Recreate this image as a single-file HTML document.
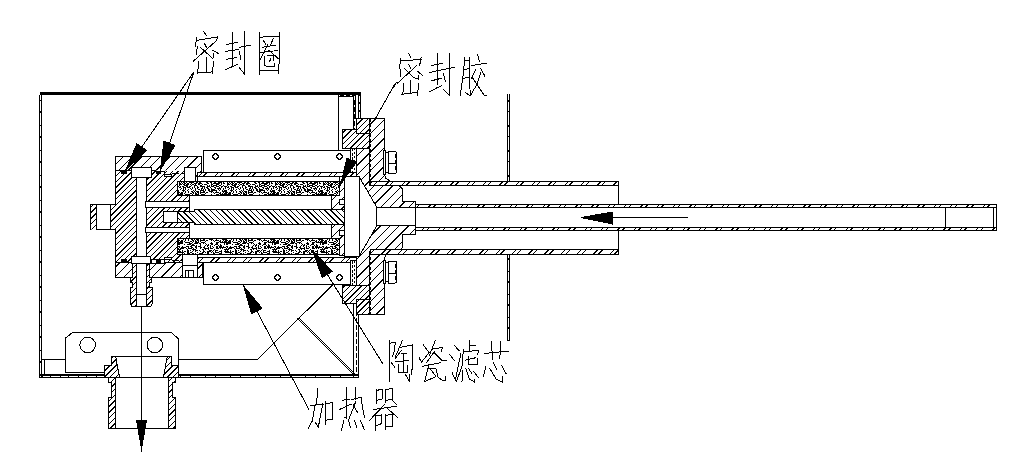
<!DOCTYPE html>
<html><head><meta charset="utf-8"><style>
html,body{margin:0;padding:0;background:#fff;}
svg{display:block;}
</style></head><body>
<svg width="1014" height="460" viewBox="0 0 1014 460" stroke="#000" fill="none" shape-rendering="crispEdges">
<rect width="1014" height="460" fill="#fff" stroke="none"/>
<defs>
<pattern id="h1" stroke="none" patternUnits="userSpaceOnUse" width="4.05" height="4.05" patternTransform="rotate(45)"><rect width="4.05" height="4.05" fill="#fff"/><rect x="0" y="0" width="0.72" height="4.05" fill="#000"/></pattern>
<pattern id="h2" stroke="none" patternUnits="userSpaceOnUse" width="4.05" height="4.05" patternTransform="rotate(-45)"><rect width="4.05" height="4.05" fill="#fff"/><rect x="0" y="0" width="0.72" height="4.05" fill="#000"/></pattern>
<pattern id="h3" stroke="none" patternUnits="userSpaceOnUse" width="6.6" height="6.6" patternTransform="rotate(45)"><rect width="6.6" height="6.6" fill="#fff"/><rect x="0" y="0" width="0.72" height="6.6" fill="#000"/></pattern>
<pattern id="hs" stroke="none" patternUnits="userSpaceOnUse" width="11.5" height="11.5" patternTransform="rotate(45)"><rect width="11.5" height="11.5" fill="#fff"/><rect x="0" y="0" width="0.72" height="11.5" fill="#000"/><rect x="3.4" y="0" width="0.72" height="11.5" fill="#000"/></pattern>
<pattern id="st" stroke="none" fill="#000" patternUnits="userSpaceOnUse" width="48" height="24"><rect width="48" height="24" fill="#fff"/><rect x="0" y="0" width="1" height="1"/><rect x="1" y="0" width="1" height="1"/><rect x="3" y="0" width="1" height="1"/><rect x="5" y="0" width="1" height="1"/><rect x="6" y="0" width="1" height="1"/><rect x="8" y="0" width="1" height="1"/><rect x="9" y="0" width="1" height="1"/><rect x="10" y="0" width="1" height="1"/><rect x="11" y="0" width="1" height="1"/><rect x="12" y="0" width="1" height="1"/><rect x="14" y="0" width="1" height="1"/><rect x="15" y="0" width="1" height="1"/><rect x="19" y="0" width="1" height="1"/><rect x="21" y="0" width="1" height="1"/><rect x="23" y="0" width="1" height="1"/><rect x="24" y="0" width="1" height="1"/><rect x="25" y="0" width="1" height="1"/><rect x="26" y="0" width="1" height="1"/><rect x="28" y="0" width="1" height="1"/><rect x="31" y="0" width="1" height="1"/><rect x="33" y="0" width="1" height="1"/><rect x="34" y="0" width="1" height="1"/><rect x="35" y="0" width="1" height="1"/><rect x="37" y="0" width="1" height="1"/><rect x="38" y="0" width="1" height="1"/><rect x="41" y="0" width="1" height="1"/><rect x="44" y="0" width="1" height="1"/><rect x="1" y="1" width="1" height="1"/><rect x="3" y="1" width="1" height="1"/><rect x="4" y="1" width="1" height="1"/><rect x="6" y="1" width="1" height="1"/><rect x="8" y="1" width="1" height="1"/><rect x="13" y="1" width="1" height="1"/><rect x="22" y="1" width="1" height="1"/><rect x="27" y="1" width="1" height="1"/><rect x="28" y="1" width="1" height="1"/><rect x="30" y="1" width="1" height="1"/><rect x="32" y="1" width="1" height="1"/><rect x="33" y="1" width="1" height="1"/><rect x="34" y="1" width="1" height="1"/><rect x="36" y="1" width="1" height="1"/><rect x="37" y="1" width="1" height="1"/><rect x="38" y="1" width="1" height="1"/><rect x="40" y="1" width="1" height="1"/><rect x="46" y="1" width="1" height="1"/><rect x="47" y="1" width="1" height="1"/><rect x="0" y="2" width="1" height="1"/><rect x="3" y="2" width="1" height="1"/><rect x="4" y="2" width="1" height="1"/><rect x="5" y="2" width="1" height="1"/><rect x="6" y="2" width="1" height="1"/><rect x="9" y="2" width="1" height="1"/><rect x="10" y="2" width="1" height="1"/><rect x="11" y="2" width="1" height="1"/><rect x="12" y="2" width="1" height="1"/><rect x="19" y="2" width="1" height="1"/><rect x="24" y="2" width="1" height="1"/><rect x="25" y="2" width="1" height="1"/><rect x="26" y="2" width="1" height="1"/><rect x="28" y="2" width="1" height="1"/><rect x="29" y="2" width="1" height="1"/><rect x="30" y="2" width="1" height="1"/><rect x="31" y="2" width="1" height="1"/><rect x="32" y="2" width="1" height="1"/><rect x="33" y="2" width="1" height="1"/><rect x="34" y="2" width="1" height="1"/><rect x="35" y="2" width="1" height="1"/><rect x="36" y="2" width="1" height="1"/><rect x="37" y="2" width="1" height="1"/><rect x="38" y="2" width="1" height="1"/><rect x="41" y="2" width="1" height="1"/><rect x="42" y="2" width="1" height="1"/><rect x="43" y="2" width="1" height="1"/><rect x="44" y="2" width="1" height="1"/><rect x="45" y="2" width="1" height="1"/><rect x="2" y="3" width="1" height="1"/><rect x="3" y="3" width="1" height="1"/><rect x="4" y="3" width="1" height="1"/><rect x="5" y="3" width="1" height="1"/><rect x="7" y="3" width="1" height="1"/><rect x="8" y="3" width="1" height="1"/><rect x="11" y="3" width="1" height="1"/><rect x="13" y="3" width="1" height="1"/><rect x="18" y="3" width="1" height="1"/><rect x="19" y="3" width="1" height="1"/><rect x="20" y="3" width="1" height="1"/><rect x="24" y="3" width="1" height="1"/><rect x="25" y="3" width="1" height="1"/><rect x="32" y="3" width="1" height="1"/><rect x="34" y="3" width="1" height="1"/><rect x="35" y="3" width="1" height="1"/><rect x="36" y="3" width="1" height="1"/><rect x="37" y="3" width="1" height="1"/><rect x="38" y="3" width="1" height="1"/><rect x="45" y="3" width="1" height="1"/><rect x="46" y="3" width="1" height="1"/><rect x="47" y="3" width="1" height="1"/><rect x="0" y="4" width="1" height="1"/><rect x="1" y="4" width="1" height="1"/><rect x="8" y="4" width="1" height="1"/><rect x="14" y="4" width="1" height="1"/><rect x="16" y="4" width="1" height="1"/><rect x="19" y="4" width="1" height="1"/><rect x="20" y="4" width="1" height="1"/><rect x="23" y="4" width="1" height="1"/><rect x="24" y="4" width="1" height="1"/><rect x="25" y="4" width="1" height="1"/><rect x="28" y="4" width="1" height="1"/><rect x="32" y="4" width="1" height="1"/><rect x="34" y="4" width="1" height="1"/><rect x="35" y="4" width="1" height="1"/><rect x="40" y="4" width="1" height="1"/><rect x="43" y="4" width="1" height="1"/><rect x="44" y="4" width="1" height="1"/><rect x="45" y="4" width="1" height="1"/><rect x="46" y="4" width="1" height="1"/><rect x="0" y="5" width="1" height="1"/><rect x="1" y="5" width="1" height="1"/><rect x="2" y="5" width="1" height="1"/><rect x="4" y="5" width="1" height="1"/><rect x="8" y="5" width="1" height="1"/><rect x="13" y="5" width="1" height="1"/><rect x="15" y="5" width="1" height="1"/><rect x="16" y="5" width="1" height="1"/><rect x="18" y="5" width="1" height="1"/><rect x="22" y="5" width="1" height="1"/><rect x="26" y="5" width="1" height="1"/><rect x="28" y="5" width="1" height="1"/><rect x="29" y="5" width="1" height="1"/><rect x="47" y="5" width="1" height="1"/><rect x="3" y="6" width="1" height="1"/><rect x="4" y="6" width="1" height="1"/><rect x="6" y="6" width="1" height="1"/><rect x="7" y="6" width="1" height="1"/><rect x="8" y="6" width="1" height="1"/><rect x="12" y="6" width="1" height="1"/><rect x="15" y="6" width="1" height="1"/><rect x="18" y="6" width="1" height="1"/><rect x="20" y="6" width="1" height="1"/><rect x="24" y="6" width="1" height="1"/><rect x="25" y="6" width="1" height="1"/><rect x="27" y="6" width="1" height="1"/><rect x="28" y="6" width="1" height="1"/><rect x="29" y="6" width="1" height="1"/><rect x="31" y="6" width="1" height="1"/><rect x="34" y="6" width="1" height="1"/><rect x="35" y="6" width="1" height="1"/><rect x="38" y="6" width="1" height="1"/><rect x="42" y="6" width="1" height="1"/><rect x="43" y="6" width="1" height="1"/><rect x="44" y="6" width="1" height="1"/><rect x="46" y="6" width="1" height="1"/><rect x="47" y="6" width="1" height="1"/><rect x="0" y="7" width="1" height="1"/><rect x="3" y="7" width="1" height="1"/><rect x="4" y="7" width="1" height="1"/><rect x="8" y="7" width="1" height="1"/><rect x="9" y="7" width="1" height="1"/><rect x="11" y="7" width="1" height="1"/><rect x="12" y="7" width="1" height="1"/><rect x="16" y="7" width="1" height="1"/><rect x="18" y="7" width="1" height="1"/><rect x="21" y="7" width="1" height="1"/><rect x="24" y="7" width="1" height="1"/><rect x="25" y="7" width="1" height="1"/><rect x="27" y="7" width="1" height="1"/><rect x="28" y="7" width="1" height="1"/><rect x="29" y="7" width="1" height="1"/><rect x="30" y="7" width="1" height="1"/><rect x="31" y="7" width="1" height="1"/><rect x="32" y="7" width="1" height="1"/><rect x="33" y="7" width="1" height="1"/><rect x="35" y="7" width="1" height="1"/><rect x="37" y="7" width="1" height="1"/><rect x="38" y="7" width="1" height="1"/><rect x="39" y="7" width="1" height="1"/><rect x="40" y="7" width="1" height="1"/><rect x="41" y="7" width="1" height="1"/><rect x="44" y="7" width="1" height="1"/><rect x="47" y="7" width="1" height="1"/><rect x="1" y="8" width="1" height="1"/><rect x="4" y="8" width="1" height="1"/><rect x="8" y="8" width="1" height="1"/><rect x="12" y="8" width="1" height="1"/><rect x="13" y="8" width="1" height="1"/><rect x="14" y="8" width="1" height="1"/><rect x="15" y="8" width="1" height="1"/><rect x="16" y="8" width="1" height="1"/><rect x="18" y="8" width="1" height="1"/><rect x="19" y="8" width="1" height="1"/><rect x="20" y="8" width="1" height="1"/><rect x="24" y="8" width="1" height="1"/><rect x="25" y="8" width="1" height="1"/><rect x="26" y="8" width="1" height="1"/><rect x="28" y="8" width="1" height="1"/><rect x="30" y="8" width="1" height="1"/><rect x="34" y="8" width="1" height="1"/><rect x="36" y="8" width="1" height="1"/><rect x="37" y="8" width="1" height="1"/><rect x="38" y="8" width="1" height="1"/><rect x="39" y="8" width="1" height="1"/><rect x="42" y="8" width="1" height="1"/><rect x="44" y="8" width="1" height="1"/><rect x="45" y="8" width="1" height="1"/><rect x="46" y="8" width="1" height="1"/><rect x="47" y="8" width="1" height="1"/><rect x="0" y="9" width="1" height="1"/><rect x="1" y="9" width="1" height="1"/><rect x="2" y="9" width="1" height="1"/><rect x="3" y="9" width="1" height="1"/><rect x="10" y="9" width="1" height="1"/><rect x="11" y="9" width="1" height="1"/><rect x="13" y="9" width="1" height="1"/><rect x="16" y="9" width="1" height="1"/><rect x="22" y="9" width="1" height="1"/><rect x="32" y="9" width="1" height="1"/><rect x="33" y="9" width="1" height="1"/><rect x="34" y="9" width="1" height="1"/><rect x="35" y="9" width="1" height="1"/><rect x="36" y="9" width="1" height="1"/><rect x="43" y="9" width="1" height="1"/><rect x="1" y="10" width="1" height="1"/><rect x="3" y="10" width="1" height="1"/><rect x="4" y="10" width="1" height="1"/><rect x="5" y="10" width="1" height="1"/><rect x="7" y="10" width="1" height="1"/><rect x="11" y="10" width="1" height="1"/><rect x="17" y="10" width="1" height="1"/><rect x="18" y="10" width="1" height="1"/><rect x="19" y="10" width="1" height="1"/><rect x="21" y="10" width="1" height="1"/><rect x="23" y="10" width="1" height="1"/><rect x="24" y="10" width="1" height="1"/><rect x="25" y="10" width="1" height="1"/><rect x="29" y="10" width="1" height="1"/><rect x="33" y="10" width="1" height="1"/><rect x="35" y="10" width="1" height="1"/><rect x="38" y="10" width="1" height="1"/><rect x="43" y="10" width="1" height="1"/><rect x="44" y="10" width="1" height="1"/><rect x="46" y="10" width="1" height="1"/><rect x="0" y="11" width="1" height="1"/><rect x="3" y="11" width="1" height="1"/><rect x="8" y="11" width="1" height="1"/><rect x="11" y="11" width="1" height="1"/><rect x="12" y="11" width="1" height="1"/><rect x="15" y="11" width="1" height="1"/><rect x="16" y="11" width="1" height="1"/><rect x="17" y="11" width="1" height="1"/><rect x="18" y="11" width="1" height="1"/><rect x="20" y="11" width="1" height="1"/><rect x="23" y="11" width="1" height="1"/><rect x="27" y="11" width="1" height="1"/><rect x="28" y="11" width="1" height="1"/><rect x="29" y="11" width="1" height="1"/><rect x="32" y="11" width="1" height="1"/><rect x="33" y="11" width="1" height="1"/><rect x="34" y="11" width="1" height="1"/><rect x="35" y="11" width="1" height="1"/><rect x="36" y="11" width="1" height="1"/><rect x="38" y="11" width="1" height="1"/><rect x="40" y="11" width="1" height="1"/><rect x="41" y="11" width="1" height="1"/><rect x="43" y="11" width="1" height="1"/><rect x="44" y="11" width="1" height="1"/><rect x="5" y="12" width="1" height="1"/><rect x="10" y="12" width="1" height="1"/><rect x="11" y="12" width="1" height="1"/><rect x="13" y="12" width="1" height="1"/><rect x="15" y="12" width="1" height="1"/><rect x="16" y="12" width="1" height="1"/><rect x="19" y="12" width="1" height="1"/><rect x="21" y="12" width="1" height="1"/><rect x="23" y="12" width="1" height="1"/><rect x="24" y="12" width="1" height="1"/><rect x="25" y="12" width="1" height="1"/><rect x="26" y="12" width="1" height="1"/><rect x="29" y="12" width="1" height="1"/><rect x="33" y="12" width="1" height="1"/><rect x="34" y="12" width="1" height="1"/><rect x="35" y="12" width="1" height="1"/><rect x="36" y="12" width="1" height="1"/><rect x="37" y="12" width="1" height="1"/><rect x="38" y="12" width="1" height="1"/><rect x="39" y="12" width="1" height="1"/><rect x="43" y="12" width="1" height="1"/><rect x="44" y="12" width="1" height="1"/><rect x="46" y="12" width="1" height="1"/><rect x="47" y="12" width="1" height="1"/><rect x="0" y="13" width="1" height="1"/><rect x="1" y="13" width="1" height="1"/><rect x="3" y="13" width="1" height="1"/><rect x="7" y="13" width="1" height="1"/><rect x="8" y="13" width="1" height="1"/><rect x="9" y="13" width="1" height="1"/><rect x="10" y="13" width="1" height="1"/><rect x="15" y="13" width="1" height="1"/><rect x="16" y="13" width="1" height="1"/><rect x="21" y="13" width="1" height="1"/><rect x="22" y="13" width="1" height="1"/><rect x="27" y="13" width="1" height="1"/><rect x="28" y="13" width="1" height="1"/><rect x="29" y="13" width="1" height="1"/><rect x="38" y="13" width="1" height="1"/><rect x="40" y="13" width="1" height="1"/><rect x="43" y="13" width="1" height="1"/><rect x="44" y="13" width="1" height="1"/><rect x="45" y="13" width="1" height="1"/><rect x="0" y="14" width="1" height="1"/><rect x="1" y="14" width="1" height="1"/><rect x="4" y="14" width="1" height="1"/><rect x="5" y="14" width="1" height="1"/><rect x="7" y="14" width="1" height="1"/><rect x="8" y="14" width="1" height="1"/><rect x="14" y="14" width="1" height="1"/><rect x="15" y="14" width="1" height="1"/><rect x="18" y="14" width="1" height="1"/><rect x="19" y="14" width="1" height="1"/><rect x="22" y="14" width="1" height="1"/><rect x="23" y="14" width="1" height="1"/><rect x="26" y="14" width="1" height="1"/><rect x="27" y="14" width="1" height="1"/><rect x="28" y="14" width="1" height="1"/><rect x="29" y="14" width="1" height="1"/><rect x="31" y="14" width="1" height="1"/><rect x="35" y="14" width="1" height="1"/><rect x="37" y="14" width="1" height="1"/><rect x="39" y="14" width="1" height="1"/><rect x="40" y="14" width="1" height="1"/><rect x="42" y="14" width="1" height="1"/><rect x="45" y="14" width="1" height="1"/><rect x="46" y="14" width="1" height="1"/><rect x="47" y="14" width="1" height="1"/><rect x="2" y="15" width="1" height="1"/><rect x="3" y="15" width="1" height="1"/><rect x="4" y="15" width="1" height="1"/><rect x="6" y="15" width="1" height="1"/><rect x="7" y="15" width="1" height="1"/><rect x="8" y="15" width="1" height="1"/><rect x="9" y="15" width="1" height="1"/><rect x="15" y="15" width="1" height="1"/><rect x="16" y="15" width="1" height="1"/><rect x="19" y="15" width="1" height="1"/><rect x="21" y="15" width="1" height="1"/><rect x="22" y="15" width="1" height="1"/><rect x="23" y="15" width="1" height="1"/><rect x="24" y="15" width="1" height="1"/><rect x="25" y="15" width="1" height="1"/><rect x="26" y="15" width="1" height="1"/><rect x="27" y="15" width="1" height="1"/><rect x="29" y="15" width="1" height="1"/><rect x="31" y="15" width="1" height="1"/><rect x="32" y="15" width="1" height="1"/><rect x="35" y="15" width="1" height="1"/><rect x="36" y="15" width="1" height="1"/><rect x="38" y="15" width="1" height="1"/><rect x="40" y="15" width="1" height="1"/><rect x="41" y="15" width="1" height="1"/><rect x="43" y="15" width="1" height="1"/><rect x="44" y="15" width="1" height="1"/><rect x="47" y="15" width="1" height="1"/><rect x="0" y="16" width="1" height="1"/><rect x="1" y="16" width="1" height="1"/><rect x="3" y="16" width="1" height="1"/><rect x="6" y="16" width="1" height="1"/><rect x="7" y="16" width="1" height="1"/><rect x="10" y="16" width="1" height="1"/><rect x="12" y="16" width="1" height="1"/><rect x="13" y="16" width="1" height="1"/><rect x="14" y="16" width="1" height="1"/><rect x="19" y="16" width="1" height="1"/><rect x="20" y="16" width="1" height="1"/><rect x="24" y="16" width="1" height="1"/><rect x="25" y="16" width="1" height="1"/><rect x="26" y="16" width="1" height="1"/><rect x="29" y="16" width="1" height="1"/><rect x="35" y="16" width="1" height="1"/><rect x="36" y="16" width="1" height="1"/><rect x="37" y="16" width="1" height="1"/><rect x="39" y="16" width="1" height="1"/><rect x="40" y="16" width="1" height="1"/><rect x="42" y="16" width="1" height="1"/><rect x="43" y="16" width="1" height="1"/><rect x="44" y="16" width="1" height="1"/><rect x="46" y="16" width="1" height="1"/><rect x="2" y="17" width="1" height="1"/><rect x="3" y="17" width="1" height="1"/><rect x="4" y="17" width="1" height="1"/><rect x="8" y="17" width="1" height="1"/><rect x="9" y="17" width="1" height="1"/><rect x="15" y="17" width="1" height="1"/><rect x="17" y="17" width="1" height="1"/><rect x="19" y="17" width="1" height="1"/><rect x="21" y="17" width="1" height="1"/><rect x="22" y="17" width="1" height="1"/><rect x="23" y="17" width="1" height="1"/><rect x="24" y="17" width="1" height="1"/><rect x="27" y="17" width="1" height="1"/><rect x="28" y="17" width="1" height="1"/><rect x="31" y="17" width="1" height="1"/><rect x="35" y="17" width="1" height="1"/><rect x="40" y="17" width="1" height="1"/><rect x="41" y="17" width="1" height="1"/><rect x="42" y="17" width="1" height="1"/><rect x="43" y="17" width="1" height="1"/><rect x="47" y="17" width="1" height="1"/><rect x="2" y="18" width="1" height="1"/><rect x="5" y="18" width="1" height="1"/><rect x="8" y="18" width="1" height="1"/><rect x="9" y="18" width="1" height="1"/><rect x="10" y="18" width="1" height="1"/><rect x="11" y="18" width="1" height="1"/><rect x="12" y="18" width="1" height="1"/><rect x="15" y="18" width="1" height="1"/><rect x="16" y="18" width="1" height="1"/><rect x="17" y="18" width="1" height="1"/><rect x="19" y="18" width="1" height="1"/><rect x="20" y="18" width="1" height="1"/><rect x="21" y="18" width="1" height="1"/><rect x="24" y="18" width="1" height="1"/><rect x="25" y="18" width="1" height="1"/><rect x="26" y="18" width="1" height="1"/><rect x="29" y="18" width="1" height="1"/><rect x="30" y="18" width="1" height="1"/><rect x="32" y="18" width="1" height="1"/><rect x="33" y="18" width="1" height="1"/><rect x="34" y="18" width="1" height="1"/><rect x="36" y="18" width="1" height="1"/><rect x="38" y="18" width="1" height="1"/><rect x="39" y="18" width="1" height="1"/><rect x="42" y="18" width="1" height="1"/><rect x="43" y="18" width="1" height="1"/><rect x="45" y="18" width="1" height="1"/><rect x="46" y="18" width="1" height="1"/><rect x="0" y="19" width="1" height="1"/><rect x="2" y="19" width="1" height="1"/><rect x="5" y="19" width="1" height="1"/><rect x="6" y="19" width="1" height="1"/><rect x="10" y="19" width="1" height="1"/><rect x="12" y="19" width="1" height="1"/><rect x="14" y="19" width="1" height="1"/><rect x="15" y="19" width="1" height="1"/><rect x="18" y="19" width="1" height="1"/><rect x="22" y="19" width="1" height="1"/><rect x="23" y="19" width="1" height="1"/><rect x="27" y="19" width="1" height="1"/><rect x="29" y="19" width="1" height="1"/><rect x="33" y="19" width="1" height="1"/><rect x="35" y="19" width="1" height="1"/><rect x="36" y="19" width="1" height="1"/><rect x="39" y="19" width="1" height="1"/><rect x="40" y="19" width="1" height="1"/><rect x="41" y="19" width="1" height="1"/><rect x="43" y="19" width="1" height="1"/><rect x="44" y="19" width="1" height="1"/><rect x="45" y="19" width="1" height="1"/><rect x="0" y="20" width="1" height="1"/><rect x="3" y="20" width="1" height="1"/><rect x="5" y="20" width="1" height="1"/><rect x="9" y="20" width="1" height="1"/><rect x="10" y="20" width="1" height="1"/><rect x="12" y="20" width="1" height="1"/><rect x="15" y="20" width="1" height="1"/><rect x="16" y="20" width="1" height="1"/><rect x="19" y="20" width="1" height="1"/><rect x="23" y="20" width="1" height="1"/><rect x="25" y="20" width="1" height="1"/><rect x="26" y="20" width="1" height="1"/><rect x="27" y="20" width="1" height="1"/><rect x="28" y="20" width="1" height="1"/><rect x="31" y="20" width="1" height="1"/><rect x="33" y="20" width="1" height="1"/><rect x="37" y="20" width="1" height="1"/><rect x="39" y="20" width="1" height="1"/><rect x="41" y="20" width="1" height="1"/><rect x="46" y="20" width="1" height="1"/><rect x="3" y="21" width="1" height="1"/><rect x="6" y="21" width="1" height="1"/><rect x="7" y="21" width="1" height="1"/><rect x="9" y="21" width="1" height="1"/><rect x="11" y="21" width="1" height="1"/><rect x="13" y="21" width="1" height="1"/><rect x="16" y="21" width="1" height="1"/><rect x="17" y="21" width="1" height="1"/><rect x="19" y="21" width="1" height="1"/><rect x="20" y="21" width="1" height="1"/><rect x="21" y="21" width="1" height="1"/><rect x="22" y="21" width="1" height="1"/><rect x="26" y="21" width="1" height="1"/><rect x="28" y="21" width="1" height="1"/><rect x="31" y="21" width="1" height="1"/><rect x="36" y="21" width="1" height="1"/><rect x="39" y="21" width="1" height="1"/><rect x="41" y="21" width="1" height="1"/><rect x="44" y="21" width="1" height="1"/><rect x="47" y="21" width="1" height="1"/><rect x="1" y="22" width="1" height="1"/><rect x="3" y="22" width="1" height="1"/><rect x="8" y="22" width="1" height="1"/><rect x="9" y="22" width="1" height="1"/><rect x="10" y="22" width="1" height="1"/><rect x="11" y="22" width="1" height="1"/><rect x="13" y="22" width="1" height="1"/><rect x="16" y="22" width="1" height="1"/><rect x="17" y="22" width="1" height="1"/><rect x="19" y="22" width="1" height="1"/><rect x="20" y="22" width="1" height="1"/><rect x="21" y="22" width="1" height="1"/><rect x="22" y="22" width="1" height="1"/><rect x="23" y="22" width="1" height="1"/><rect x="24" y="22" width="1" height="1"/><rect x="27" y="22" width="1" height="1"/><rect x="30" y="22" width="1" height="1"/><rect x="32" y="22" width="1" height="1"/><rect x="33" y="22" width="1" height="1"/><rect x="34" y="22" width="1" height="1"/><rect x="38" y="22" width="1" height="1"/><rect x="39" y="22" width="1" height="1"/><rect x="40" y="22" width="1" height="1"/><rect x="43" y="22" width="1" height="1"/><rect x="0" y="23" width="1" height="1"/><rect x="2" y="23" width="1" height="1"/><rect x="4" y="23" width="1" height="1"/><rect x="5" y="23" width="1" height="1"/><rect x="6" y="23" width="1" height="1"/><rect x="8" y="23" width="1" height="1"/><rect x="11" y="23" width="1" height="1"/><rect x="12" y="23" width="1" height="1"/><rect x="17" y="23" width="1" height="1"/><rect x="18" y="23" width="1" height="1"/><rect x="19" y="23" width="1" height="1"/><rect x="20" y="23" width="1" height="1"/><rect x="24" y="23" width="1" height="1"/><rect x="30" y="23" width="1" height="1"/><rect x="31" y="23" width="1" height="1"/><rect x="32" y="23" width="1" height="1"/><rect x="33" y="23" width="1" height="1"/><rect x="34" y="23" width="1" height="1"/><rect x="39" y="23" width="1" height="1"/><rect x="41" y="23" width="1" height="1"/><rect x="44" y="23" width="1" height="1"/><rect x="47" y="23" width="1" height="1"/></pattern>
</defs>
<rect x="40" y="92" width="321" height="3" fill="#000" stroke="none"/><rect x="358" y="92" width="3" height="27" fill="#000" stroke="none"/><line x1="359.5" y1="96" x2="359.5" y2="118" stroke-width="1" stroke="#fff" stroke-dasharray="6 2"/><line x1="39.5" y1="95" x2="39.5" y2="378" stroke-width="1" /><line x1="41.5" y1="95" x2="41.5" y2="378" stroke-width="1" /><line x1="40.5" y1="100" x2="40.5" y2="375" stroke-width="1" stroke-dasharray="1 10 2 12"/><rect x="40" y="374" width="64" height="2" fill="#000" stroke="none"/><line x1="40" y1="377.5" x2="104" y2="377.5" stroke-width="1" /><line x1="42" y1="376.5" x2="104" y2="376.5" stroke-width="1" stroke-dasharray="1 7 1 9"/><rect x="178" y="374" width="181" height="2" fill="#000" stroke="none"/><line x1="178" y1="377.5" x2="359" y2="377.5" stroke-width="1" /><line x1="180" y1="376.5" x2="353" y2="376.5" stroke-width="1" stroke-dasharray="1 9 1 14"/><line x1="338.5" y1="95" x2="338.5" y2="150" stroke-width="1" /><polyline points="339,96.5 353.5,96.5 353.5,129.5" fill="none" stroke-width="1"/><line x1="340" y1="95.5" x2="357" y2="95.5" stroke-width="1" stroke-dasharray="4 2"/><line x1="355.5" y1="96" x2="355.5" y2="119" stroke-width="1" /><line x1="354.5" y1="100" x2="354.5" y2="129" stroke-width="1" stroke-dasharray="5 2"/><line x1="353.5" y1="304" x2="353.5" y2="377" stroke-width="1" /><line x1="358.5" y1="313" x2="358.5" y2="377" stroke-width="1" /><line x1="356.5" y1="304" x2="356.5" y2="375" stroke-width="1" stroke-dasharray="5 2"/><polyline points="42,359.5 65,359.5" fill="none" stroke-width="1"/><polyline points="178,359.5 257.5,359.5 333.5,284" fill="none" stroke-width="1"/><line x1="297.5" y1="318.5" x2="355" y2="376" stroke-width="1" /><line x1="299.5" y1="318.5" x2="357" y2="376" stroke-width="1" /><line x1="44.5" y1="359" x2="44.5" y2="375" stroke-width="1" /><polygon points="115,156 201.5,156 201.5,172.5 197.5,172.5 197.5,181 189.5,181 189.5,254 197.5,254 197.5,257.5 202.5,257.5 202.5,277.5 115,277.5 115,229.5 110,229.5 110,204 115,204" fill="#fff" stroke="none"/><clipPath id="c1"><polygon points="115,156 201.5,156 201.5,172.5 197.5,172.5 197.5,181 189.5,181 189.5,254 197.5,254 197.5,257.5 202.5,257.5 202.5,277.5 115,277.5 115,229.5 110,229.5 110,204 115,204"/></clipPath><path clip-path="url(#c1)" d="M-19.65,277.50L101.85,156.00M-13.92,277.50L107.58,156.00M-8.19,277.50L113.31,156.00M-2.46,277.50L119.04,156.00M3.27,277.50L124.77,156.00M9.00,277.50L130.50,156.00M14.73,277.50L136.23,156.00M20.46,277.50L141.96,156.00M26.19,277.50L147.69,156.00M31.92,277.50L153.42,156.00M37.65,277.50L159.15,156.00M43.38,277.50L164.88,156.00M49.11,277.50L170.61,156.00M54.84,277.50L176.34,156.00M60.57,277.50L182.07,156.00M66.30,277.50L187.80,156.00M72.03,277.50L193.53,156.00M77.76,277.50L199.26,156.00M83.49,277.50L204.99,156.00M89.22,277.50L210.72,156.00M94.95,277.50L216.45,156.00M100.68,277.50L222.18,156.00M106.41,277.50L227.91,156.00M112.14,277.50L233.64,156.00M117.87,277.50L239.37,156.00M123.60,277.50L245.10,156.00M129.33,277.50L250.83,156.00M135.06,277.50L256.56,156.00M140.79,277.50L262.29,156.00M146.52,277.50L268.02,156.00M152.25,277.50L273.75,156.00M157.98,277.50L279.48,156.00M163.71,277.50L285.21,156.00M169.44,277.50L290.94,156.00M175.17,277.50L296.67,156.00M180.90,277.50L302.40,156.00M186.63,277.50L308.13,156.00M192.36,277.50L313.86,156.00M198.09,277.50L319.59,156.00M203.82,277.50L325.32,156.00M209.55,277.50L331.05,156.00" stroke="#000" stroke-width="1" fill="none"/><polygon points="115,156 201.5,156 201.5,170.5 115,170.5" fill="#fff" stroke="none"/><clipPath id="c2"><polygon points="115,156 201.5,156 201.5,170.5 115,170.5"/></clipPath><path clip-path="url(#c2)" d="M90.74,170.50L105.24,156.00M100.07,170.50L114.57,156.00M109.40,170.50L123.90,156.00M118.73,170.50L133.23,156.00M128.06,170.50L142.56,156.00M137.39,170.50L151.89,156.00M146.72,170.50L161.22,156.00M156.05,170.50L170.55,156.00M165.38,170.50L179.88,156.00M174.71,170.50L189.21,156.00M184.04,170.50L198.54,156.00M193.37,170.50L207.87,156.00M202.70,170.50L217.20,156.00M212.03,170.50L226.53,156.00" stroke="#000" stroke-width="1" fill="none"/><polygon points="115,263 202.5,263 202.5,277.5 115,277.5" fill="#fff" stroke="none"/><clipPath id="c3"><polygon points="115,263 202.5,263 202.5,277.5 115,277.5"/></clipPath><path clip-path="url(#c3)" d="M86.37,277.50L100.87,263.00M95.70,277.50L110.20,263.00M105.03,277.50L119.53,263.00M114.36,277.50L128.86,263.00M123.69,277.50L138.19,263.00M133.02,277.50L147.52,263.00M142.35,277.50L156.85,263.00M151.68,277.50L166.18,263.00M161.01,277.50L175.51,263.00M170.34,277.50L184.84,263.00M179.67,277.50L194.17,263.00M189.00,277.50L203.50,263.00M198.33,277.50L212.83,263.00M207.66,277.50L222.16,263.00M216.99,277.50L231.49,263.00" stroke="#000" stroke-width="1" fill="none"/><polygon points="115,156 201.5,156 201.5,172.5 197.5,172.5 197.5,181 189.5,181 189.5,254 197.5,254 197.5,257.5 202.5,257.5 202.5,277.5 115,277.5 115,229.5 110,229.5 110,204 115,204" fill="none" stroke-width="1"/><rect x="90.5" y="204.5" width="19.5" height="25" fill="#fff" stroke-width="1"/><polygon points="91,205 96,205 96,229.5 91,229.5" fill="#fff" stroke="none"/><clipPath id="c4"><polygon points="91,205 96,205 96,229.5 91,229.5"/></clipPath><path clip-path="url(#c4)" d="M57.00,229.50L81.50,205.00M62.73,229.50L87.23,205.00M68.46,229.50L92.96,205.00M74.19,229.50L98.69,205.00M79.92,229.50L104.42,205.00M85.65,229.50L110.15,205.00M91.38,229.50L115.88,205.00M97.11,229.50L121.61,205.00M102.84,229.50L127.34,205.00" stroke="#000" stroke-width="1" fill="none"/><line x1="96.5" y1="204.5" x2="96.5" y2="229.5" stroke-width="1" /><line x1="115" y1="170.5" x2="131" y2="170.5" stroke-width="1" /><line x1="115" y1="262.5" x2="182.5" y2="262.5" stroke-width="1" /><rect x="136.5" y="176" width="10" height="81" fill="#fff" stroke-width="1"/><rect x="131.5" y="167.5" width="20" height="9.5" fill="#fff" stroke-width="1"/><line x1="151.5" y1="170.5" x2="156" y2="170.5" stroke-width="1" /><rect x="184.5" y="167.5" width="11" height="13.5" fill="#fff" stroke-width="1"/><rect x="164.5" y="174.5" width="7" height="1.5" fill="#fff" stroke-width="1"/><polyline points="161,171.5 164.5,171.5 164.5,174.5" fill="none" stroke-width="1"/><line x1="171.5" y1="173.5" x2="183.5" y2="173.5" stroke-width="1" stroke-dasharray="3 1.5"/><rect x="131.5" y="256.5" width="18.5" height="6.5" fill="#fff" stroke-width="1"/><rect x="151.5" y="259.5" width="12.5" height="3.5" fill="#fff" stroke-width="1"/><rect x="164.5" y="257.5" width="7" height="2" fill="#fff" stroke-width="1"/><line x1="171.5" y1="260.5" x2="182.5" y2="260.5" stroke-width="1" stroke-dasharray="3 1.5"/><rect x="182.5" y="254" width="15" height="23" fill="#fff" stroke-width="1"/><line x1="182.5" y1="265.5" x2="197.5" y2="265.5" stroke-width="1" /><rect x="185.5" y="270.5" width="8" height="6.5" fill="#fff" stroke-width="1"/><line x1="188.5" y1="271" x2="188.5" y2="277" stroke-width="1" /><rect x="145.5" y="201.5" width="44" height="5.5" fill="#fff" stroke-width="1"/><rect x="145.5" y="227" width="44" height="5" fill="#fff" stroke-width="1"/><rect x="163.5" y="211" width="14" height="11" fill="#fff" stroke-width="1"/><rect x="121" y="171" width="6" height="3" fill="#000" stroke="none"/><rect x="156" y="171" width="5" height="3" fill="#000" stroke="none"/><rect x="121" y="259" width="6" height="4" fill="#000" stroke="none"/><rect x="156" y="260" width="5" height="3" fill="#000" stroke="none"/><polygon points="132.5,263 149.5,263 149.5,277.5 151.5,277.5 151.5,282.5 149.5,282.5 149.5,287.5 152.5,287.5 152.5,303.5 150.5,306.5 132,306.5 130.5,303.5 130.5,287.5 132.5,287.5 132.5,282.5 130.5,282.5 130.5,277.5 132.5,277.5" fill="#fff" stroke="none"/><clipPath id="c5"><polygon points="132.5,263 149.5,263 149.5,277.5 151.5,277.5 151.5,282.5 149.5,282.5 149.5,287.5 152.5,287.5 152.5,303.5 150.5,306.5 132,306.5 130.5,303.5 130.5,287.5 132.5,287.5 132.5,282.5 130.5,282.5 130.5,277.5 132.5,277.5"/></clipPath><path clip-path="url(#c5)" d="M77.41,306.50L120.91,263.00M83.14,306.50L126.64,263.00M88.87,306.50L132.37,263.00M94.60,306.50L138.10,263.00M100.33,306.50L143.83,263.00M106.06,306.50L149.56,263.00M111.79,306.50L155.29,263.00M117.52,306.50L161.02,263.00M123.25,306.50L166.75,263.00M128.98,306.50L172.48,263.00M134.71,306.50L178.21,263.00M140.44,306.50L183.94,263.00M146.17,306.50L189.67,263.00M151.90,306.50L195.40,263.00M157.63,306.50L201.13,263.00M163.36,306.50L206.86,263.00" stroke="#000" stroke-width="1" fill="none"/><polygon points="132.5,263 149.5,263 149.5,277.5 151.5,277.5 151.5,282.5 149.5,282.5 149.5,287.5 152.5,287.5 152.5,303.5 150.5,306.5 132,306.5 130.5,303.5 130.5,287.5 132.5,287.5 132.5,282.5 130.5,282.5 130.5,277.5 132.5,277.5" fill="none" stroke-width="1"/><rect x="136.5" y="263" width="10" height="43.5" fill="#fff" stroke-width="1"/><line x1="136.5" y1="294.5" x2="146.5" y2="294.5" stroke-width="1" /><line x1="141.5" y1="306.5" x2="141.5" y2="420" stroke-width="1" /><rect x="203.5" y="150.5" width="147" height="21.5" fill="#fff" stroke-width="1"/><polygon points="197.5,172.5 358,172.5 358,176.5 197.5,176.5" fill="#fff" stroke="none"/><clipPath id="c6"><polygon points="197.5,172.5 358,172.5 358,176.5 197.5,176.5"/></clipPath><path clip-path="url(#c6)" d="M165.80,176.50L169.80,172.50M170.60,176.50L174.60,172.50M182.10,176.50L186.10,172.50M186.90,176.50L190.90,172.50M198.40,176.50L202.40,172.50M203.20,176.50L207.20,172.50M214.70,176.50L218.70,172.50M219.50,176.50L223.50,172.50M231.00,176.50L235.00,172.50M235.80,176.50L239.80,172.50M247.30,176.50L251.30,172.50M252.10,176.50L256.10,172.50M263.60,176.50L267.60,172.50M268.40,176.50L272.40,172.50M279.90,176.50L283.90,172.50M284.70,176.50L288.70,172.50M296.20,176.50L300.20,172.50M301.00,176.50L305.00,172.50M312.50,176.50L316.50,172.50M317.30,176.50L321.30,172.50M328.80,176.50L332.80,172.50M333.60,176.50L337.60,172.50M345.10,176.50L349.10,172.50M349.90,176.50L353.90,172.50M361.40,176.50L365.40,172.50M366.20,176.50L370.20,172.50M377.70,176.50L381.70,172.50M382.50,176.50L386.50,172.50" stroke="#000" stroke-width="1" fill="none"/><polygon points="197.5,172.5 358,172.5 358,176.5 197.5,176.5" fill="none" stroke-width="1"/><circle cx="215.5" cy="156.5" r="2.7" fill="#fff" stroke-width="1.3"/><circle cx="277.5" cy="156.5" r="2.7" fill="#fff" stroke-width="1.3"/><circle cx="339.5" cy="156.5" r="2.7" fill="#fff" stroke-width="1.3"/><rect x="203.5" y="262.5" width="147" height="22.0" fill="#fff" stroke-width="1"/><polygon points="197.5,257.5 358,257.5 358,262 197.5,262" fill="#fff" stroke="none"/><clipPath id="c7"><polygon points="197.5,257.5 358,257.5 358,262 197.5,262"/></clipPath><path clip-path="url(#c7)" d="M161.80,262.00L166.30,257.50M166.60,262.00L171.10,257.50M178.10,262.00L182.60,257.50M182.90,262.00L187.40,257.50M194.40,262.00L198.90,257.50M199.20,262.00L203.70,257.50M210.70,262.00L215.20,257.50M215.50,262.00L220.00,257.50M227.00,262.00L231.50,257.50M231.80,262.00L236.30,257.50M243.30,262.00L247.80,257.50M248.10,262.00L252.60,257.50M259.60,262.00L264.10,257.50M264.40,262.00L268.90,257.50M275.90,262.00L280.40,257.50M280.70,262.00L285.20,257.50M292.20,262.00L296.70,257.50M297.00,262.00L301.50,257.50M308.50,262.00L313.00,257.50M313.30,262.00L317.80,257.50M324.80,262.00L329.30,257.50M329.60,262.00L334.10,257.50M341.10,262.00L345.60,257.50M345.90,262.00L350.40,257.50M357.40,262.00L361.90,257.50M362.20,262.00L366.70,257.50M373.70,262.00L378.20,257.50M378.50,262.00L383.00,257.50M390.00,262.00L394.50,257.50M394.80,262.00L399.30,257.50" stroke="#000" stroke-width="1" fill="none"/><polygon points="197.5,257.5 358,257.5 358,262 197.5,262" fill="none" stroke-width="1"/><circle cx="215.5" cy="277.5" r="2.7" fill="#fff" stroke-width="1.3"/><circle cx="277.5" cy="277.5" r="2.7" fill="#fff" stroke-width="1.3"/><circle cx="339.5" cy="277.5" r="2.7" fill="#fff" stroke-width="1.3"/><polygon points="339.5,176.5 344.5,176.5 344.5,255 339.5,255 339.5,238.5 331.5,238.5 331.5,195.5 339.5,195.5" fill="#fff" stroke="none"/><clipPath id="c8"><polygon points="339.5,176.5 344.5,176.5 344.5,255 339.5,255 339.5,238.5 331.5,238.5 331.5,195.5 339.5,195.5"/></clipPath><path clip-path="url(#c8)" d="M239.49,255.00L317.99,176.50M248.82,255.00L327.32,176.50M258.15,255.00L336.65,176.50M267.48,255.00L345.98,176.50M276.81,255.00L355.31,176.50M286.14,255.00L364.64,176.50M295.47,255.00L373.97,176.50M304.80,255.00L383.30,176.50M314.13,255.00L392.63,176.50M323.46,255.00L401.96,176.50M332.79,255.00L411.29,176.50M342.12,255.00L420.62,176.50M351.45,255.00L429.95,176.50M360.78,255.00L439.28,176.50" stroke="#000" stroke-width="1" fill="none"/><polygon points="339.5,176.5 344.5,176.5 344.5,255 339.5,255 339.5,238.5 331.5,238.5 331.5,195.5 339.5,195.5" fill="none" stroke-width="1"/><rect x="177.5" y="181" width="162" height="14.5" fill="url(#st)" stroke-width="1"/><rect x="177.5" y="238.5" width="162" height="15.5" fill="url(#st)" stroke-width="1"/><rect x="339.5" y="199.5" width="5" height="4.5" fill="#fff" stroke-width="1"/><rect x="339.5" y="230.5" width="5" height="4.5" fill="#fff" stroke-width="1"/><polygon points="177.5,211 194,211 194,209.5 344.5,209.5 344.5,224 194,224 194,222.5 177.5,222.5" fill="#fff" stroke="none"/><clipPath id="c9"><polygon points="177.5,211 194,211 194,209.5 344.5,209.5 344.5,224 194,224 194,222.5 177.5,222.5"/></clipPath><path clip-path="url(#c9)" d="M152.20,209.50L166.70,224.00M157.93,209.50L172.43,224.00M163.66,209.50L178.16,224.00M169.39,209.50L183.89,224.00M175.12,209.50L189.62,224.00M180.85,209.50L195.35,224.00M186.58,209.50L201.08,224.00M192.31,209.50L206.81,224.00M198.04,209.50L212.54,224.00M203.77,209.50L218.27,224.00M209.50,209.50L224.00,224.00M215.23,209.50L229.73,224.00M220.96,209.50L235.46,224.00M226.69,209.50L241.19,224.00M232.42,209.50L246.92,224.00M238.15,209.50L252.65,224.00M243.88,209.50L258.38,224.00M249.61,209.50L264.11,224.00M255.34,209.50L269.84,224.00M261.07,209.50L275.57,224.00M266.80,209.50L281.30,224.00M272.53,209.50L287.03,224.00M278.26,209.50L292.76,224.00M283.99,209.50L298.49,224.00M289.72,209.50L304.22,224.00M295.45,209.50L309.95,224.00M301.18,209.50L315.68,224.00M306.91,209.50L321.41,224.00M312.64,209.50L327.14,224.00M318.37,209.50L332.87,224.00M324.10,209.50L338.60,224.00M329.83,209.50L344.33,224.00M335.56,209.50L350.06,224.00M341.29,209.50L355.79,224.00M347.02,209.50L361.52,224.00M352.75,209.50L367.25,224.00" stroke="#000" stroke-width="1" fill="none"/><polygon points="177.5,211 194,211 194,209.5 344.5,209.5 344.5,224 194,224 194,222.5 177.5,222.5" fill="none" stroke-width="1"/><rect x="344.5" y="176.5" width="14.5" height="80" fill="#fff" stroke-width="1"/><polygon points="356.7,146.5 369.5,146.5 369.5,185.5 399,185.5 402.5,189 402.5,201 415,201 415,234 402.5,234 402.5,247.5 399,251 369.5,251 369.5,287 356.7,287 356.7,256.5 359,256.5 376.8,225.8 376.8,207.2 359,176.5 356.7,176.5" fill="#fff" stroke="none"/><clipPath id="c10"><polygon points="356.7,146.5 369.5,146.5 369.5,185.5 399,185.5 402.5,189 402.5,201 415,201 415,234 402.5,234 402.5,247.5 399,251 369.5,251 369.5,287 356.7,287 356.7,256.5 359,256.5 376.8,225.8 376.8,207.2 359,176.5 356.7,176.5"/></clipPath><path clip-path="url(#c10)" d="M198.16,287.00L338.66,146.50M207.49,287.00L347.99,146.50M216.82,287.00L357.32,146.50M226.15,287.00L366.65,146.50M235.48,287.00L375.98,146.50M244.81,287.00L385.31,146.50M254.14,287.00L394.64,146.50M263.47,287.00L403.97,146.50M272.80,287.00L413.30,146.50M282.13,287.00L422.63,146.50M291.46,287.00L431.96,146.50M300.79,287.00L441.29,146.50M310.12,287.00L450.62,146.50M319.45,287.00L459.95,146.50M328.78,287.00L469.28,146.50M338.11,287.00L478.61,146.50M347.44,287.00L487.94,146.50M356.77,287.00L497.27,146.50M366.10,287.00L506.60,146.50M375.43,287.00L515.93,146.50M384.76,287.00L525.26,146.50M394.09,287.00L534.59,146.50M403.42,287.00L543.92,146.50M412.75,287.00L553.25,146.50M422.08,287.00L562.58,146.50M431.41,287.00L571.91,146.50" stroke="#000" stroke-width="1" fill="none"/><polygon points="356.7,146.5 369.5,146.5 369.5,185.5 399,185.5 402.5,189 402.5,201 415,201 415,234 402.5,234 402.5,247.5 399,251 369.5,251 369.5,287 356.7,287 356.7,256.5 359,256.5 376.8,225.8 376.8,207.2 359,176.5 356.7,176.5" fill="none" stroke-width="1"/><rect x="376.5" y="207.5" width="38.5" height="18" fill="#fff" stroke-width="1"/><polygon points="369.5,118.5 384,118.5 384,174 386,178.5 391,181.5 369.5,181.5" fill="#fff" stroke="none"/><clipPath id="c11"><polygon points="369.5,118.5 384,118.5 384,174 386,178.5 391,181.5 369.5,181.5"/></clipPath><path clip-path="url(#c11)" d="M294.33,181.50L357.33,118.50M303.66,181.50L366.66,118.50M312.99,181.50L375.99,118.50M322.32,181.50L385.32,118.50M331.65,181.50L394.65,118.50M340.98,181.50L403.98,118.50M350.31,181.50L413.31,118.50M359.64,181.50L422.64,118.50M368.97,181.50L431.97,118.50M378.30,181.50L441.30,118.50M387.63,181.50L450.63,118.50M396.96,181.50L459.96,118.50M406.29,181.50L469.29,118.50" stroke="#000" stroke-width="1" fill="none"/><polygon points="369.5,118.5 384,118.5 384,174 386,178.5 391,181.5 369.5,181.5" fill="none" stroke-width="1"/><line x1="370.5" y1="118.5" x2="370.5" y2="181.5" stroke-width="1" stroke-dasharray="3 2"/><polygon points="356.7,118.5 369.5,118.5 369.5,133.5 356.7,133.5" fill="#fff" stroke="none"/><clipPath id="c12"><polygon points="356.7,118.5 369.5,118.5 369.5,133.5 356.7,133.5"/></clipPath><path clip-path="url(#c12)" d="M330.63,133.50L345.63,118.50M336.36,133.50L351.36,118.50M342.09,133.50L357.09,118.50M347.82,133.50L362.82,118.50M353.55,133.50L368.55,118.50M359.28,133.50L374.28,118.50M365.01,133.50L380.01,118.50M370.74,133.50L385.74,118.50M376.47,133.50L391.47,118.50" stroke="#000" stroke-width="1" fill="none"/><polygon points="356.7,118.5 369.5,118.5 369.5,133.5 356.7,133.5" fill="none" stroke-width="1"/><polygon points="342,129.5 356.7,129.5 356.7,133.5 369.5,133.5 369.5,148 342,148" fill="#fff" stroke="none"/><clipPath id="c13"><polygon points="342,129.5 356.7,129.5 356.7,133.5 369.5,133.5 369.5,148 342,148"/></clipPath><path clip-path="url(#c13)" d="M316.13,148.00L334.63,129.50M321.86,148.00L340.36,129.50M327.59,148.00L346.09,129.50M333.32,148.00L351.82,129.50M339.05,148.00L357.55,129.50M344.78,148.00L363.28,129.50M350.51,148.00L369.01,129.50M356.24,148.00L374.74,129.50M361.97,148.00L380.47,129.50M367.70,148.00L386.20,129.50M373.43,148.00L391.93,129.50M379.16,148.00L397.66,129.50" stroke="#000" stroke-width="1" fill="none"/><polygon points="342,129.5 356.7,129.5 356.7,133.5 369.5,133.5 369.5,148 342,148" fill="none" stroke-width="1"/><rect x="350" y="148" width="6.7" height="24.5" fill="#fff" stroke-width="1"/><line x1="352.5" y1="148" x2="352.5" y2="172.5" stroke-width="1" stroke-dasharray="3 1.5"/><line x1="354.5" y1="148" x2="354.5" y2="172.5" stroke-width="1" stroke-dasharray="2 2"/><rect x="383.5" y="150.5" width="2" height="23.5" fill="#fff" stroke-width="1"/><rect x="385.5" y="152.5" width="3" height="19.5" fill="#fff" stroke-width="1"/><path d="M388.5,151.5 h6 q2,0 2,2 v18 q0,2 -2,2 h-6 z" fill="#fff" stroke-width="1"/><line x1="388.5" y1="163.5" x2="396.5" y2="163.5" stroke-width="1" /><line x1="395.5" y1="154" x2="395.5" y2="171" stroke-width="1" stroke-dasharray="4 2"/><polygon points="369.5,314.7 384,314.7 384,259.2 386,254.7 391,251.7 369.5,251.7" fill="#fff" stroke="none"/><clipPath id="c14"><polygon points="369.5,314.7 384,314.7 384,259.2 386,254.7 391,251.7 369.5,251.7"/></clipPath><path clip-path="url(#c14)" d="M291.75,314.70L354.75,251.70M301.08,314.70L364.08,251.70M310.41,314.70L373.41,251.70M319.74,314.70L382.74,251.70M329.07,314.70L392.07,251.70M338.40,314.70L401.40,251.70M347.73,314.70L410.73,251.70M357.06,314.70L420.06,251.70M366.39,314.70L429.39,251.70M375.72,314.70L438.72,251.70M385.05,314.70L448.05,251.70M394.38,314.70L457.38,251.70M403.71,314.70L466.71,251.70" stroke="#000" stroke-width="1" fill="none"/><polygon points="369.5,314.7 384,314.7 384,259.2 386,254.7 391,251.7 369.5,251.7" fill="none" stroke-width="1"/><line x1="370.5" y1="251.7" x2="370.5" y2="314.7" stroke-width="1" stroke-dasharray="3 2"/><polygon points="356.7,314.7 369.5,314.7 369.5,299.7 356.7,299.7" fill="#fff" stroke="none"/><clipPath id="c15"><polygon points="356.7,314.7 369.5,314.7 369.5,299.7 356.7,299.7"/></clipPath><path clip-path="url(#c15)" d="M332.79,314.70L347.79,299.70M338.52,314.70L353.52,299.70M344.25,314.70L359.25,299.70M349.98,314.70L364.98,299.70M355.71,314.70L370.71,299.70M361.44,314.70L376.44,299.70M367.17,314.70L382.17,299.70M372.90,314.70L387.90,299.70M378.63,314.70L393.63,299.70" stroke="#000" stroke-width="1" fill="none"/><polygon points="356.7,314.7 369.5,314.7 369.5,299.7 356.7,299.7" fill="none" stroke-width="1"/><polygon points="342,303.7 356.7,303.7 356.7,299.7 369.5,299.7 369.5,285.2 342,285.2" fill="#fff" stroke="none"/><clipPath id="c16"><polygon points="342,303.7 356.7,303.7 356.7,299.7 369.5,299.7 369.5,285.2 342,285.2"/></clipPath><path clip-path="url(#c16)" d="M315.14,303.70L333.64,285.20M320.87,303.70L339.37,285.20M326.60,303.70L345.10,285.20M332.33,303.70L350.83,285.20M338.06,303.70L356.56,285.20M343.79,303.70L362.29,285.20M349.52,303.70L368.02,285.20M355.25,303.70L373.75,285.20M360.98,303.70L379.48,285.20M366.71,303.70L385.21,285.20M372.44,303.70L390.94,285.20M378.17,303.70L396.67,285.20" stroke="#000" stroke-width="1" fill="none"/><polygon points="342,303.7 356.7,303.7 356.7,299.7 369.5,299.7 369.5,285.2 342,285.2" fill="none" stroke-width="1"/><rect x="350" y="260.7" width="6.7" height="24.5" fill="#fff" stroke-width="1"/><line x1="352.5" y1="260.7" x2="352.5" y2="285.2" stroke-width="1" stroke-dasharray="3 1.5"/><line x1="354.5" y1="260.7" x2="354.5" y2="285.2" stroke-width="1" stroke-dasharray="2 2"/><rect x="383.5" y="260.0" width="2" height="23.5" fill="#fff" stroke-width="1"/><rect x="385.5" y="262.0" width="3" height="19.5" fill="#fff" stroke-width="1"/><path d="M388.5,261.0 h6 q2,0 2,2 v18 q0,2 -2,2 h-6 z" fill="#fff" stroke-width="1"/><line x1="388.5" y1="273.0" x2="396.5" y2="273.0" stroke-width="1" /><line x1="395.5" y1="263.5" x2="395.5" y2="280.5" stroke-width="1" stroke-dasharray="4 2"/><polygon points="370,181 618.5,181 618.5,185.5 370,185.5" fill="#fff" stroke="none"/><clipPath id="c17"><polygon points="370,181 618.5,181 618.5,185.5 370,185.5"/></clipPath><path clip-path="url(#c17)" d="M336.10,185.50L340.60,181.00M340.90,185.50L345.40,181.00M352.40,185.50L356.90,181.00M357.20,185.50L361.70,181.00M368.70,185.50L373.20,181.00M373.50,185.50L378.00,181.00M385.00,185.50L389.50,181.00M389.80,185.50L394.30,181.00M401.30,185.50L405.80,181.00M406.10,185.50L410.60,181.00M417.60,185.50L422.10,181.00M422.40,185.50L426.90,181.00M433.90,185.50L438.40,181.00M438.70,185.50L443.20,181.00M450.20,185.50L454.70,181.00M455.00,185.50L459.50,181.00M466.50,185.50L471.00,181.00M471.30,185.50L475.80,181.00M482.80,185.50L487.30,181.00M487.60,185.50L492.10,181.00M499.10,185.50L503.60,181.00M503.90,185.50L508.40,181.00M515.40,185.50L519.90,181.00M520.20,185.50L524.70,181.00M531.70,185.50L536.20,181.00M536.50,185.50L541.00,181.00M548.00,185.50L552.50,181.00M552.80,185.50L557.30,181.00M564.30,185.50L568.80,181.00M569.10,185.50L573.60,181.00M580.60,185.50L585.10,181.00M585.40,185.50L589.90,181.00M596.90,185.50L601.40,181.00M601.70,185.50L606.20,181.00M613.20,185.50L617.70,181.00M618.00,185.50L622.50,181.00M629.50,185.50L634.00,181.00M634.30,185.50L638.80,181.00M645.80,185.50L650.30,181.00M650.60,185.50L655.10,181.00" stroke="#000" stroke-width="1" fill="none"/><polygon points="370,181 618.5,181 618.5,185.5 370,185.5" fill="none" stroke-width="1"/><polygon points="370,249.5 618.5,249.5 618.5,254 370,254" fill="#fff" stroke="none"/><clipPath id="c18"><polygon points="370,249.5 618.5,249.5 618.5,254 370,254"/></clipPath><path clip-path="url(#c18)" d="M349.10,254.00L353.60,249.50M353.90,254.00L358.40,249.50M365.40,254.00L369.90,249.50M370.20,254.00L374.70,249.50M381.70,254.00L386.20,249.50M386.50,254.00L391.00,249.50M398.00,254.00L402.50,249.50M402.80,254.00L407.30,249.50M414.30,254.00L418.80,249.50M419.10,254.00L423.60,249.50M430.60,254.00L435.10,249.50M435.40,254.00L439.90,249.50M446.90,254.00L451.40,249.50M451.70,254.00L456.20,249.50M463.20,254.00L467.70,249.50M468.00,254.00L472.50,249.50M479.50,254.00L484.00,249.50M484.30,254.00L488.80,249.50M495.80,254.00L500.30,249.50M500.60,254.00L505.10,249.50M512.10,254.00L516.60,249.50M516.90,254.00L521.40,249.50M528.40,254.00L532.90,249.50M533.20,254.00L537.70,249.50M544.70,254.00L549.20,249.50M549.50,254.00L554.00,249.50M561.00,254.00L565.50,249.50M565.80,254.00L570.30,249.50M577.30,254.00L581.80,249.50M582.10,254.00L586.60,249.50M593.60,254.00L598.10,249.50M598.40,254.00L602.90,249.50M609.90,254.00L614.40,249.50M614.70,254.00L619.20,249.50M626.20,254.00L630.70,249.50M631.00,254.00L635.50,249.50M642.50,254.00L647.00,249.50M647.30,254.00L651.80,249.50" stroke="#000" stroke-width="1" fill="none"/><polygon points="370,249.5 618.5,249.5 618.5,254 370,254" fill="none" stroke-width="1"/><line x1="618.5" y1="185" x2="618.5" y2="204.5" stroke-width="1" /><line x1="618.5" y1="230.5" x2="618.5" y2="250" stroke-width="1" /><polygon points="415,204.5 996.5,204.5 996.5,207.5 415,207.5" fill="#fff" stroke="none"/><clipPath id="c19"><polygon points="415,204.5 996.5,204.5 996.5,207.5 415,207.5"/></clipPath><path clip-path="url(#c19)" d="M395.60,207.50L398.60,204.50M400.40,207.50L403.40,204.50M411.90,207.50L414.90,204.50M416.70,207.50L419.70,204.50M428.20,207.50L431.20,204.50M433.00,207.50L436.00,204.50M444.50,207.50L447.50,204.50M449.30,207.50L452.30,204.50M460.80,207.50L463.80,204.50M465.60,207.50L468.60,204.50M477.10,207.50L480.10,204.50M481.90,207.50L484.90,204.50M493.40,207.50L496.40,204.50M498.20,207.50L501.20,204.50M509.70,207.50L512.70,204.50M514.50,207.50L517.50,204.50M526.00,207.50L529.00,204.50M530.80,207.50L533.80,204.50M542.30,207.50L545.30,204.50M547.10,207.50L550.10,204.50M558.60,207.50L561.60,204.50M563.40,207.50L566.40,204.50M574.90,207.50L577.90,204.50M579.70,207.50L582.70,204.50M591.20,207.50L594.20,204.50M596.00,207.50L599.00,204.50M607.50,207.50L610.50,204.50M612.30,207.50L615.30,204.50M623.80,207.50L626.80,204.50M628.60,207.50L631.60,204.50M640.10,207.50L643.10,204.50M644.90,207.50L647.90,204.50M656.40,207.50L659.40,204.50M661.20,207.50L664.20,204.50M672.70,207.50L675.70,204.50M677.50,207.50L680.50,204.50M689.00,207.50L692.00,204.50M693.80,207.50L696.80,204.50M705.30,207.50L708.30,204.50M710.10,207.50L713.10,204.50M721.60,207.50L724.60,204.50M726.40,207.50L729.40,204.50M737.90,207.50L740.90,204.50M742.70,207.50L745.70,204.50M754.20,207.50L757.20,204.50M759.00,207.50L762.00,204.50M770.50,207.50L773.50,204.50M775.30,207.50L778.30,204.50M786.80,207.50L789.80,204.50M791.60,207.50L794.60,204.50M803.10,207.50L806.10,204.50M807.90,207.50L810.90,204.50M819.40,207.50L822.40,204.50M824.20,207.50L827.20,204.50M835.70,207.50L838.70,204.50M840.50,207.50L843.50,204.50M852.00,207.50L855.00,204.50M856.80,207.50L859.80,204.50M868.30,207.50L871.30,204.50M873.10,207.50L876.10,204.50M884.60,207.50L887.60,204.50M889.40,207.50L892.40,204.50M900.90,207.50L903.90,204.50M905.70,207.50L908.70,204.50M917.20,207.50L920.20,204.50M922.00,207.50L925.00,204.50M933.50,207.50L936.50,204.50M938.30,207.50L941.30,204.50M949.80,207.50L952.80,204.50M954.60,207.50L957.60,204.50M966.10,207.50L969.10,204.50M970.90,207.50L973.90,204.50M982.40,207.50L985.40,204.50M987.20,207.50L990.20,204.50M998.70,207.50L1001.70,204.50M1003.50,207.50L1006.50,204.50M1015.00,207.50L1018.00,204.50M1019.80,207.50L1022.80,204.50" stroke="#000" stroke-width="1" fill="none"/><polygon points="415,204.5 996.5,204.5 996.5,207.5 415,207.5" fill="none" stroke-width="1"/><polygon points="415,227.5 996.5,227.5 996.5,230.5 415,230.5" fill="#fff" stroke="none"/><clipPath id="c20"><polygon points="415,227.5 996.5,227.5 996.5,230.5 415,230.5"/></clipPath><path clip-path="url(#c20)" d="M388.90,230.50L391.90,227.50M393.70,230.50L396.70,227.50M405.20,230.50L408.20,227.50M410.00,230.50L413.00,227.50M421.50,230.50L424.50,227.50M426.30,230.50L429.30,227.50M437.80,230.50L440.80,227.50M442.60,230.50L445.60,227.50M454.10,230.50L457.10,227.50M458.90,230.50L461.90,227.50M470.40,230.50L473.40,227.50M475.20,230.50L478.20,227.50M486.70,230.50L489.70,227.50M491.50,230.50L494.50,227.50M503.00,230.50L506.00,227.50M507.80,230.50L510.80,227.50M519.30,230.50L522.30,227.50M524.10,230.50L527.10,227.50M535.60,230.50L538.60,227.50M540.40,230.50L543.40,227.50M551.90,230.50L554.90,227.50M556.70,230.50L559.70,227.50M568.20,230.50L571.20,227.50M573.00,230.50L576.00,227.50M584.50,230.50L587.50,227.50M589.30,230.50L592.30,227.50M600.80,230.50L603.80,227.50M605.60,230.50L608.60,227.50M617.10,230.50L620.10,227.50M621.90,230.50L624.90,227.50M633.40,230.50L636.40,227.50M638.20,230.50L641.20,227.50M649.70,230.50L652.70,227.50M654.50,230.50L657.50,227.50M666.00,230.50L669.00,227.50M670.80,230.50L673.80,227.50M682.30,230.50L685.30,227.50M687.10,230.50L690.10,227.50M698.60,230.50L701.60,227.50M703.40,230.50L706.40,227.50M714.90,230.50L717.90,227.50M719.70,230.50L722.70,227.50M731.20,230.50L734.20,227.50M736.00,230.50L739.00,227.50M747.50,230.50L750.50,227.50M752.30,230.50L755.30,227.50M763.80,230.50L766.80,227.50M768.60,230.50L771.60,227.50M780.10,230.50L783.10,227.50M784.90,230.50L787.90,227.50M796.40,230.50L799.40,227.50M801.20,230.50L804.20,227.50M812.70,230.50L815.70,227.50M817.50,230.50L820.50,227.50M829.00,230.50L832.00,227.50M833.80,230.50L836.80,227.50M845.30,230.50L848.30,227.50M850.10,230.50L853.10,227.50M861.60,230.50L864.60,227.50M866.40,230.50L869.40,227.50M877.90,230.50L880.90,227.50M882.70,230.50L885.70,227.50M894.20,230.50L897.20,227.50M899.00,230.50L902.00,227.50M910.50,230.50L913.50,227.50M915.30,230.50L918.30,227.50M926.80,230.50L929.80,227.50M931.60,230.50L934.60,227.50M943.10,230.50L946.10,227.50M947.90,230.50L950.90,227.50M959.40,230.50L962.40,227.50M964.20,230.50L967.20,227.50M975.70,230.50L978.70,227.50M980.50,230.50L983.50,227.50M992.00,230.50L995.00,227.50M996.80,230.50L999.80,227.50M1008.30,230.50L1011.30,227.50M1013.10,230.50L1016.10,227.50M1024.60,230.50L1027.60,227.50M1029.40,230.50L1032.40,227.50" stroke="#000" stroke-width="1" fill="none"/><polygon points="415,227.5 996.5,227.5 996.5,230.5 415,230.5" fill="none" stroke-width="1"/><line x1="996.5" y1="204.5" x2="996.5" y2="230.5" stroke-width="1" /><line x1="993.5" y1="207.5" x2="993.5" y2="227.5" stroke-width="1" /><line x1="945.5" y1="207.5" x2="945.5" y2="227.5" stroke-width="1" /><line x1="507.5" y1="94" x2="507.5" y2="181" stroke-width="1" /><line x1="509.5" y1="94" x2="509.5" y2="181" stroke-width="1" /><line x1="508.5" y1="100" x2="508.5" y2="181" stroke-width="1" stroke-dasharray="2 9 1 13"/><line x1="507.5" y1="254" x2="507.5" y2="340" stroke-width="1" /><line x1="509.5" y1="254" x2="509.5" y2="340" stroke-width="1" /><line x1="508.5" y1="258" x2="508.5" y2="340" stroke-width="1" stroke-dasharray="2 11 1 9"/><line x1="507" y1="340.5" x2="510" y2="340.5" stroke-width="1" /><polygon points="581,217 612.5,211.5 612.5,224.5 581,218" fill="#000" stroke="none"/><line x1="612" y1="217.5" x2="688" y2="217.5" stroke-width="1" /><polyline points="65,372.5 65,338.5 72.5,332.5 171.5,332.5 178,338.5 178,374" fill="none" stroke-width="1"/><line x1="65" y1="372.5" x2="104" y2="372.5" stroke-width="1" /><circle cx="87.7" cy="345" r="7.8" fill="none" stroke-width="1"/><circle cx="154.8" cy="345" r="7.8" fill="none" stroke-width="1"/><line x1="111.3" y1="356.5" x2="171.6" y2="356.5" stroke-width="1" /><polygon points="111.3,356.5 115.7,356.5 119.5,377 104.2,377 104.2,365.2 111.3,365.2" fill="#fff" stroke="none"/><clipPath id="c21"><polygon points="111.3,356.5 115.7,356.5 119.5,377 104.2,377 104.2,365.2 111.3,365.2"/></clipPath><path clip-path="url(#c21)" d="M75.67,377.00L96.17,356.50M81.40,377.00L101.90,356.50M87.13,377.00L107.63,356.50M92.86,377.00L113.36,356.50M98.59,377.00L119.09,356.50M104.32,377.00L124.82,356.50M110.05,377.00L130.55,356.50M115.78,377.00L136.28,356.50M121.51,377.00L142.01,356.50M127.24,377.00L147.74,356.50" stroke="#000" stroke-width="1" fill="none"/><polygon points="111.3,356.5 115.7,356.5 119.5,377 104.2,377 104.2,365.2 111.3,365.2" fill="none" stroke-width="1"/><polygon points="167.3,356.5 171.6,356.5 171.6,365.2 178.2,365.2 178.2,377 163.5,377" fill="#fff" stroke="none"/><clipPath id="c22"><polygon points="167.3,356.5 171.6,356.5 171.6,365.2 178.2,365.2 178.2,377 163.5,377"/></clipPath><path clip-path="url(#c22)" d="M132.97,377.00L153.47,356.50M138.70,377.00L159.20,356.50M144.43,377.00L164.93,356.50M150.16,377.00L170.66,356.50M155.89,377.00L176.39,356.50M161.62,377.00L182.12,356.50M167.35,377.00L187.85,356.50M173.08,377.00L193.58,356.50M178.81,377.00L199.31,356.50M184.54,377.00L205.04,356.50" stroke="#000" stroke-width="1" fill="none"/><polygon points="167.3,356.5 171.6,356.5 171.6,365.2 178.2,365.2 178.2,377 163.5,377" fill="none" stroke-width="1"/><line x1="119.5" y1="377.5" x2="163.5" y2="377.5" stroke-width="1" /><polygon points="108,377.5 115,377.5 115,428.5 108,428.5 108,397.7 111,397.7 111,382 108,382" fill="#fff" stroke="none"/><clipPath id="c23"><polygon points="108,377.5 115,377.5 115,428.5 108,428.5 108,397.7 111,397.7 111,382 108,382"/></clipPath><path clip-path="url(#c23)" d="M47.09,428.50L98.09,377.50M52.82,428.50L103.82,377.50M58.55,428.50L109.55,377.50M64.28,428.50L115.28,377.50M70.01,428.50L121.01,377.50M75.74,428.50L126.74,377.50M81.47,428.50L132.47,377.50M87.20,428.50L138.20,377.50M92.93,428.50L143.93,377.50M98.66,428.50L149.66,377.50M104.39,428.50L155.39,377.50M110.12,428.50L161.12,377.50M115.85,428.50L166.85,377.50M121.58,428.50L172.58,377.50" stroke="#000" stroke-width="1" fill="none"/><polygon points="108,377.5 115,377.5 115,428.5 108,428.5 108,397.7 111,397.7 111,382 108,382" fill="none" stroke-width="1"/><polygon points="168,377.5 175.4,377.5 175.4,382 172.2,382 172.2,397.7 175,397.7 175,428.5 168,428.5" fill="#fff" stroke="none"/><clipPath id="c24"><polygon points="168,377.5 175.4,377.5 175.4,382 172.2,382 172.2,397.7 175,397.7 175,428.5 168,428.5"/></clipPath><path clip-path="url(#c24)" d="M110.12,428.50L161.12,377.50M115.85,428.50L166.85,377.50M121.58,428.50L172.58,377.50M127.31,428.50L178.31,377.50M133.04,428.50L184.04,377.50M138.77,428.50L189.77,377.50M144.50,428.50L195.50,377.50M150.23,428.50L201.23,377.50M155.96,428.50L206.96,377.50M161.69,428.50L212.69,377.50M167.42,428.50L218.42,377.50M173.15,428.50L224.15,377.50M178.88,428.50L229.88,377.50M184.61,428.50L235.61,377.50" stroke="#000" stroke-width="1" fill="none"/><polygon points="168,377.5 175.4,377.5 175.4,382 172.2,382 172.2,397.7 175,397.7 175,428.5 168,428.5" fill="none" stroke-width="1"/><line x1="108" y1="428.5" x2="175" y2="428.5" stroke-width="1" /><polygon points="136,420 147,420 141.5,452" fill="#000" stroke="none"/><polygon points="124.3,172.2 136.62540548960922,143.02236508013866 147.3077778881461,150.4309357883777" fill="#000" stroke="none"/><line x1="194" y1="71.7" x2="141.96659168887766" y2="146.72665043425818" stroke-width="1" /><polygon points="159.6,172.2 163.48940997399885,140.76558430550747 175.78885117218235,144.97554228777128" fill="#000" stroke="none"/><line x1="194" y1="71.7" x2="169.6391305730906" y2="142.87056329663938" stroke-width="1" /><line x1="395.6" y1="82.7" x2="375.4" y2="118.5" stroke-width="1" /><polygon points="339.5,187 346.7072668578104,157.36378390481826 356.751783564623,161.84794314893105" fill="#000" stroke="none"/><line x1="352" y1="159" x2="351.7295252112167" y2="159.60586352687466" stroke-width="1" /><polygon points="311.2,248.5 333.0886247789208,271.3940626645341 322.04860878328054,278.25832131467314" fill="#000" stroke="none"/><line x1="383.2" y1="364.3" x2="327.5686167811007" y2="274.8261919896036" stroke-width="1" /><polygon points="242.5,284 262.7500317350281,308.3554144848811 251.2610113323199,314.4383751280347" fill="#000" stroke="none"/><line x1="309" y1="409.6" x2="257.00552153367397" y2="311.3968948064579" stroke-width="1" /><path d="M203.1,31.1 L206.7,35.8 M196.3,37.4 L195.7,46.8 M196.3,40.5 L217.7,36.9 L216.6,40.5 M197.3,46.8 L196.3,54.1 M204.6,43.7 L206.7,47.8 M216.6,40.5 L193.1,61.4 M200.4,47.3 L212.5,58.3 M213.0,50.5 L218.7,53.6 M213.5,53.1 L213.0,58.3 M198.4,62.0 L197.8,73.4 M206.2,57.8 L206.2,71.9 M213.5,61.4 L212.5,73.4 M197.8,72.9 L212.5,71.9 M232.4,32.2 L232.4,66.1 M226.2,44.5 L237.7,42.4 M225.1,51.5 L238.7,49.4 M226.2,59.3 L236.6,57.6 M225.1,69.8 L237.7,64.3 M244.5,31.1 L244.5,74.0 M239.2,47.3 L250.7,45.2 M239.2,51.5 L240.8,59.3 M239.2,67.7 L244.5,74.0 M259.4,32.7 L259.4,74.0 M279.4,32.7 L278.9,74.0 M259.4,37.2 L279.4,36.1 M259.4,70.8 L278.9,70.3 M263.4,40.5 L266.0,44.7 M273.3,38.4 L270.7,44.7 M262.4,47.3 L275.4,45.2 M260.3,52.5 L278.0,50.5 M267.6,44.7 L260.3,59.3 M269.1,50.5 L278.5,58.8 M267.5,55.5 L273.0,55.3 L273.8,60.0 M269.7,61.4 L270.7,58.3 M264.4,56.2 L264.4,65.0 L266.5,66.6 L274.9,66.1 L274.4,63.4 M408.7,53.1 L410.8,57.8 M400.3,58.4 L399.8,68.8 M400.3,61.0 L421.2,59.4 M421.2,57.3 L419.6,65.7 M400.8,69.9 L400.3,76.1 M408.7,64.6 L410.8,68.3 M416.5,65.7 L397.2,83.4 M396.2,82.4 L393.2,88.0 M404.0,67.8 L413.9,77.7 L418.6,78.7 M417.6,71.4 L422.8,75.6 M418.6,75.1 L418.1,79.3 M403.4,84.0 L402.9,94.4 M410.2,80.3 L410.2,93.4 M418.6,83.4 L417.6,95.5 M401.4,94.4 L417.6,92.3 M437.5,53.1 L437.0,87.1 M431.3,65.7 L442.8,63.1 M429.2,72.5 L454.8,67.2 M431.3,80.8 L441.7,78.2 M429.2,91.8 L441.7,85.5 M449.6,53.1 L449.6,95.5 M443.3,73.5 L445.4,81.3 M443.3,89.2 L449.6,95.5 M464.4,57.8 L463.9,68.8 L462.3,81.3 L460.2,95.4 M469.6,57.8 L470.1,96.0 M464.4,60.4 L469.6,60.4 M463.9,69.3 L469.6,68.8 M463.4,78.2 L469.6,77.2 M465.4,92.3 L470.1,96.0 M477.5,54.2 L479.5,61.5 M471.2,65.7 L486.3,63.1 M475.9,69.3 L471.2,78.2 M480.6,68.3 L484.8,76.1 M480.6,73.0 L476.9,84.5 L470.1,96.0 M472.2,77.2 L484.2,95.4 L486.3,95.4 M389.5,340.2 L389.5,381.5 M389.5,343.2 L395.2,342.6 L394.6,351.0 L392.0,357.0 M391.0,362.0 L394.6,367.0 M402.5,340.2 L395.2,357.2 M399.5,347.5 L412.8,345.0 M412.6,345.0 L411.9,374.2 M401.3,350.5 L395.2,358.4 M401.9,353.5 L406.7,353.5 M403.1,353.5 L403.1,371.8 M395.8,361.4 L408.6,360.8 M398.2,364.5 L398.2,373.0 L407.4,372.4 L407.4,365.1 M405.5,374.8 L409.2,380.9 L409.2,374.0 M423.3,345.0 L428.8,352.3 M419.1,357.8 L421.5,362.0 L430.0,351.7 M435.5,340.2 L429.4,355.4 M431.2,349.3 L442.2,347.5 L441.6,351.7 M434.3,351.7 L426.4,362.7 M433.7,352.3 L442.2,360.8 L446.4,360.8 M422.1,366.3 L441.0,362.7 M428.8,364.5 L424.6,381.5 L434.9,377.2 M428.7,368.3 L435.5,368.7 M430.6,369.3 L435.5,376.0 M436.7,369.3 L437.3,376.6 L442.2,380.3 L445.8,380.3 L445.8,376.0 M454.1,345.0 L458.9,350.5 M449.2,354.1 L454.7,360.8 M452.3,373.0 L455.3,380.0 L460.8,354.0 M469.3,340.8 L469.3,351.7 M469.3,345.6 L476.6,345.0 M463.2,351.7 L478.4,350.5 L477.8,354.1 M463.2,349.9 L462.6,364.5 L456.5,381.5 M465.0,360.2 L475.4,357.8 M468.1,356.6 L468.7,364.5 L477.2,364.5 L477.2,358.4 M462.6,370.6 L462.0,381.5 M465.6,368.1 L469.3,379.0 L474.7,382.1 L474.7,379.0 M468.1,368.1 L471.7,373.0 M473.5,371.2 L478.4,377.8 M484.1,353.5 L508.4,351.1 M491.4,342.0 L492.6,359.6 M500.5,342.0 L499.9,358.4 M485.9,366.3 L483.5,376.6 M489.6,368.1 L496.2,379.0 L502.3,382.1 L502.3,376.0 M493.2,362.7 L496.8,369.3 M501.7,365.1 L506.0,373.6 M317.7,389.0 L317.1,397.8 L316.0,405.5 M310.1,405.5 L323.0,404.3 M322.9,403.1 L318.3,427.2 L315.4,422.5 M314.8,406.0 L312.4,420.7 L308.3,428.4 M325.3,401.4 L325.3,424.3 M325.3,403.7 L333.0,402.5 M333.0,402.5 L332.4,419.6 M325.9,420.1 L332.4,419.3 M346.7,387.3 L346.7,418.4 L344.0,417.0 M342.0,400.2 L349.7,399.4 M339.1,409.6 L350.9,404.3 M355.6,387.3 L355.6,399.0 M351.4,399.6 L361.4,397.3 L361.4,400.8 L364.4,417.2 M356.0,401.0 L349.0,419.0 M353.2,404.9 L357.9,413.1 M343.8,420.8 L341.5,430.2 M348.5,419.6 L350.3,427.2 M354.4,420.2 L356.7,427.2 M360.3,420.2 L364.4,429.6 M376.1,389.0 L376.1,403.7 M376.7,390.2 L382.6,389.6 L382.0,399.6 L376.7,400.2 M385.5,389.6 L385.5,402.5 M385.5,389.6 L392.6,388.5 L392.6,399.6 L385.5,400.2 M373.2,409.6 L396.7,406.1 M384.3,404.9 L369.1,420.8 M386.7,407.8 L397.2,417.2 M391.4,399.6 L396.1,404.3 M375.5,415.5 L375.5,430.2 M375.5,416.1 L381.4,414.9 L381.4,423.7 L375.5,426.0 M385.5,414.9 L385.5,429.0 M385.5,415.5 L392.6,414.3 L392.6,426.0 L386.1,426.6" fill="none" stroke="#000" stroke-width="1" stroke-linecap="square"/>
</svg></body></html>
